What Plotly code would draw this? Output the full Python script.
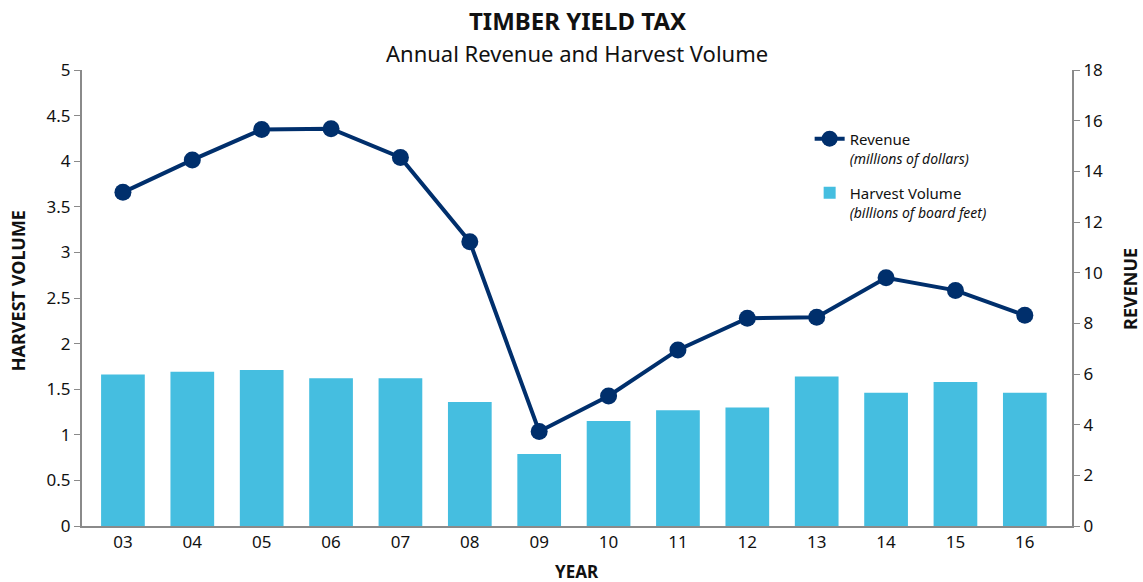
import plotly.graph_objects as go

# Data
years = ["03", "04", "05", "06", "07", "08", "09", "10", "11", "12", "13", "14", "15", "16"]
harvest_volume = [1.66, 1.69, 1.71, 1.62, 1.62, 1.36, 0.79, 1.15, 1.27, 1.30, 1.64, 1.46, 1.58, 1.46]  # billions of board feet
revenue = [13.17, 14.45, 15.65, 15.68, 14.55, 11.22, 3.73, 5.13, 6.95, 8.2, 8.24, 9.8, 9.3, 8.32]  # millions of dollars

left_ticks = [0, 0.5, 1, 1.5, 2, 2.5, 3, 3.5, 4, 4.5, 5]
right_ticks = [0, 2, 4, 6, 8, 10, 12, 14, 16, 18]

font_family = "'Noto Sans', 'Open Sans', sans-serif"
axis_grey = "#8a8a8a"
text_color = "#111111"

fig = go.Figure()

fig.add_trace(go.Bar(
    x=years,
    y=harvest_volume,
    name="Harvest Volume<br><span style='font-size:14px'><i>(billions of board feet)</i></span>",
    marker=dict(color="#45BEE0", line=dict(width=0)),
    yaxis="y",
    legendrank=2,
    legendgroup="volume",
))

fig.add_trace(go.Scatter(
    x=years,
    y=revenue,
    name="Revenue<br><span style='font-size:14px'><i>(millions of dollars)</i></span>",
    mode="lines+markers",
    line=dict(color="#002F6C", width=4),
    marker=dict(color="#002F6C", size=17),
    yaxis="y2",
    legendrank=1,
    legendgroup="revenue",
))

axis_common = dict(
    showline=True, linecolor=axis_grey, linewidth=2,
    showgrid=False, zeroline=False, automargin=False,
    tickfont=dict(size=17, color=text_color),
)

fig.update_layout(
    width=1143,
    height=582,
    margin=dict(l=82, r=71, t=70, b=56),
    paper_bgcolor="white",
    plot_bgcolor="white",
    font=dict(family=font_family, size=16, color=text_color),
    bargap=0.37,
    xaxis=dict(
        range=[-0.59, 13.68],
        ticks="",
        **axis_common,
    ),
    yaxis=dict(
        range=[0, 5],
        tickvals=left_ticks,
        ticktext=[f"{v:g}" for v in left_ticks],
        ticks="outside", ticklen=6, tickcolor=axis_grey, tickwidth=1,
        **axis_common,
    ),
    yaxis2=dict(
        overlaying="y",
        side="right",
        range=[0, 18],
        tickvals=right_ticks,
        ticks="outside", ticklen=6, tickcolor=axis_grey, tickwidth=1,
        **axis_common,
    ),
    legend=dict(
        x=0.735, y=0.885, xanchor="left", yanchor="top",
        bgcolor="rgba(0,0,0,0)",
        font=dict(size=15, color=text_color),
        valign="top",
        tracegroupgap=12,
    ),
    showlegend=True,
)

# Titles as annotations so they sit where the original has them
fig.add_annotation(text="<b>TIMBER YIELD TAX</b>", xref="paper", yref="paper",
                   x=0.5, y=1, yshift=50, xanchor="center", yanchor="middle",
                   showarrow=False, font=dict(size=24))
fig.add_annotation(text="Annual Revenue and Harvest Volume", xref="paper", yref="paper",
                   x=0.5, y=1, yshift=17, xanchor="center", yanchor="middle",
                   showarrow=False, font=dict(size=22))
fig.add_annotation(text="<b>YEAR</b>", xref="paper", yref="paper",
                   x=0.5, y=0, yshift=-45, xanchor="center", yanchor="middle",
                   showarrow=False, font=dict(size=17))
fig.add_annotation(text="<b>HARVEST VOLUME</b>", xref="paper", yref="paper",
                   x=0, y=0.515, xshift=-64, xanchor="center", yanchor="middle",
                   textangle=-90, showarrow=False, font=dict(size=18))
fig.add_annotation(text="<b>REVENUE</b>", xref="paper", yref="paper",
                   x=1, y=0.52, xshift=58, xanchor="center", yanchor="middle",
                   textangle=-90, showarrow=False, font=dict(size=18))

fig.write_html("out.html", config={"displayModeBar": False},
               post_script="document.body.style.margin='0';")
